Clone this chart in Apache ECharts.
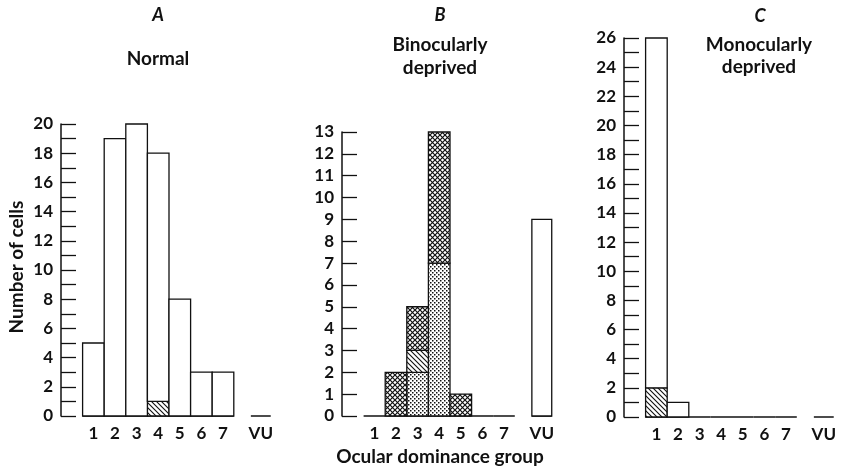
<!DOCTYPE html>
<html>
<head>
<meta charset="utf-8">
<script src="https://cdn.jsdelivr.net/npm/echarts@6/dist/echarts.min.js"></script>
<style>
  html, body { margin: 0; padding: 0; background: #fff; }
  #main { width: 841px; height: 473px; }
</style>
</head>
<body>
<div id="main"></div>
<script>
// ocular dominance groups (x labels) and where each sits on the x scale
const groups = ['1', '2', '3', '4', '5', '6', '7', 'VU'];
const groupPos = [1, 2, 3, 4, 5, 6, 7, 8.75];

// A: normal
const normalHatch = [0, 0, 0, 1, 0, 0, 0, 0];
const normalOpen = [5, 19, 20, 17, 8, 3, 3, 0];
// B: binocularly deprived
const binocStipple = [0, 0, 2, 7, 0, 0, 0, 0];
const binocHatch = [0, 0, 1, 0, 0, 0, 0, 0];
const binocCross = [0, 2, 2, 6, 1, 0, 0, 0];
const binocOpen = [0, 0, 0, 0, 0, 0, 0, 9];
// C: monocularly deprived
const monoHatch = [2, 0, 0, 0, 0, 0, 0, 0];
const monoOpen = [24, 1, 0, 0, 0, 0, 0, 0];

const yMax = [20, 13, 26];
const yLabelStep = [2, 1, 2];

const FONT = 'Lato, "Open Sans", sans-serif';
const INK = '#111';

// fill patterns
function tile(size, draw) {
  const c = document.createElement('canvas');
  c.width = size; c.height = size;
  const ctx = c.getContext('2d');
  ctx.fillStyle = '#fff';
  ctx.fillRect(0, 0, size, size);
  ctx.strokeStyle = INK;
  ctx.fillStyle = INK;
  draw(ctx, size);
  return { image: c, repeat: 'repeat' };
}
const hatchFill = tile(5, function (ctx, s) {
  ctx.lineWidth = 1.1;
  ctx.beginPath();
  ctx.moveTo(-1, -1); ctx.lineTo(s + 1, s + 1);
  ctx.moveTo(-1, s - 1); ctx.lineTo(1, s + 1);
  ctx.moveTo(s - 1, -1); ctx.lineTo(s + 1, 1);
  ctx.stroke();
});
const crossFill = tile(5, function (ctx, s) {
  ctx.lineWidth = 1.2;
  ctx.beginPath();
  ctx.moveTo(-1, -1); ctx.lineTo(s + 1, s + 1);
  ctx.moveTo(s + 1, -1); ctx.lineTo(-1, s + 1);
  ctx.stroke();
});
const stippleFill = tile(4, function (ctx, s) {
  ctx.fillRect(0, 0, 1.5, 1.5);
  ctx.fillRect(2, 2, 1.5, 1.5);
});
const openFill = '#fff';

function halfWidth(i) { return groups[i] === 'VU' ? 0.46 : 0.5; }

// stack layers bottom-up into [pos, start, end, halfWidth]
function stackLayers(layers) {
  const base = groups.map(() => 0);
  return layers.map(function (vals) {
    const out = [];
    vals.forEach(function (v, i) {
      if (v > 0) out.push([groupPos[i], base[i], base[i] + v, halfWidth(i)]);
      base[i] += v;
    });
    return out;
  });
}

function barRender(fill) {
  return function (params, api) {
    const p0 = api.coord([api.value(0) - api.value(3), api.value(1)]);
    const p1 = api.coord([api.value(0) + api.value(3), api.value(2)]);
    return {
      type: 'rect',
      shape: { x: p0[0], y: p1[1], width: p1[0] - p0[0], height: p0[1] - p1[1] },
      style: { fill: fill, stroke: INK, lineWidth: 1.3 }
    };
  };
}

function baseRender(params, api) {
  const p0 = api.coord([api.value(0) - api.value(1), 0]);
  const p1 = api.coord([api.value(0) + api.value(1), 0]);
  return {
    type: 'line',
    shape: { x1: p0[0], y1: p0[1], x2: p1[0], y2: p1[1] },
    style: { stroke: INK, lineWidth: 1.5 }
  };
}

const panels = [
  { layers: [normalHatch, normalOpen], fills: [hatchFill, openFill] },
  { layers: [binocStipple, binocHatch, binocCross, binocOpen], fills: [stippleFill, hatchFill, crossFill, openFill] },
  { layers: [monoHatch, monoOpen], fills: [hatchFill, openFill] }
];

const grids = [
  { left: 61, top: 124, width: 210.6, height: 292 },
  { left: 342, top: 132, width: 210.6, height: 284 },
  { left: 624, top: 38, width: 210.6, height: 379 }
];

const xAxes = grids.map(function (g, k) {
  return {
    type: 'value', gridIndex: k, min: -0.5, max: 9.25, interval: 0.25,
    axisLine: { show: false }, axisTick: { show: false }, splitLine: { show: false },
    axisLabel: {
      margin: 9, color: INK, fontFamily: FONT, fontSize: 17, fontWeight: 'bold',
      formatter: function (v) {
        const i = groupPos.indexOf(v);
        return i >= 0 ? groups[i] : '';
      }
    }
  };
});

const yAxes = grids.map(function (g, k) {
  return {
    type: 'value', gridIndex: k, min: 0, max: yMax[k], interval: 1,
    axisLine: { show: true, onZero: false, lineStyle: { color: INK, width: 1.5 } },
    axisTick: { show: true, inside: true, length: 15, lineStyle: { color: INK, width: 1.3 } },
    splitLine: { show: false },
    axisLabel: {
      margin: 8, color: INK, fontFamily: FONT, fontSize: 17, fontWeight: 'bold',
      formatter: function (v) { return v % yLabelStep[k] === 0 ? String(v) : ''; }
    }
  };
});

const series = [];
panels.forEach(function (p, k) {
  series.push({
    type: 'custom', xAxisIndex: k, yAxisIndex: k, clip: false, silent: true,
    renderItem: baseRender,
    data: groups.map((g, i) => [groupPos[i], halfWidth(i)])
  });
  stackLayers(p.layers).forEach(function (data, j) {
    series.push({
      type: 'custom', xAxisIndex: k, yAxisIndex: k, clip: false, silent: true,
      renderItem: barRender(p.fills[j]),
      data: data
    });
  });
});

function label(text, x, y, extra) {
  return {
    type: 'text', x: x, y: y,
    style: Object.assign({
      text: text, fill: INK, font: 'bold 19px ' + FONT,
      textAlign: 'center', textVerticalAlign: 'middle'
    }, extra || {})
  };
}

const chart = echarts.init(document.getElementById('main'));
chart.setOption({
  animation: false,
  backgroundColor: '#fff',
  grid: grids,
  xAxis: xAxes,
  yAxis: yAxes,
  series: series,
  graphic: [
    label('A', 158, 15, { font: 'italic bold 18px ' + FONT }),
    label('Normal', 158, 59),
    label('B', 440, 15, { font: 'italic bold 18px ' + FONT }),
    label('Binocularly', 440, 45),
    label('deprived', 440, 68),
    label('C', 760, 16, { font: 'italic bold 18px ' + FONT }),
    label('Monocularly', 759, 45),
    label('deprived', 759, 67),
    label('Ocular dominance group', 440, 457),
    Object.assign(label('Number of cells', 0, 0), { x: 17, y: 267, rotation: Math.PI / 2 })
  ]
});
</script>
</body>
</html>
